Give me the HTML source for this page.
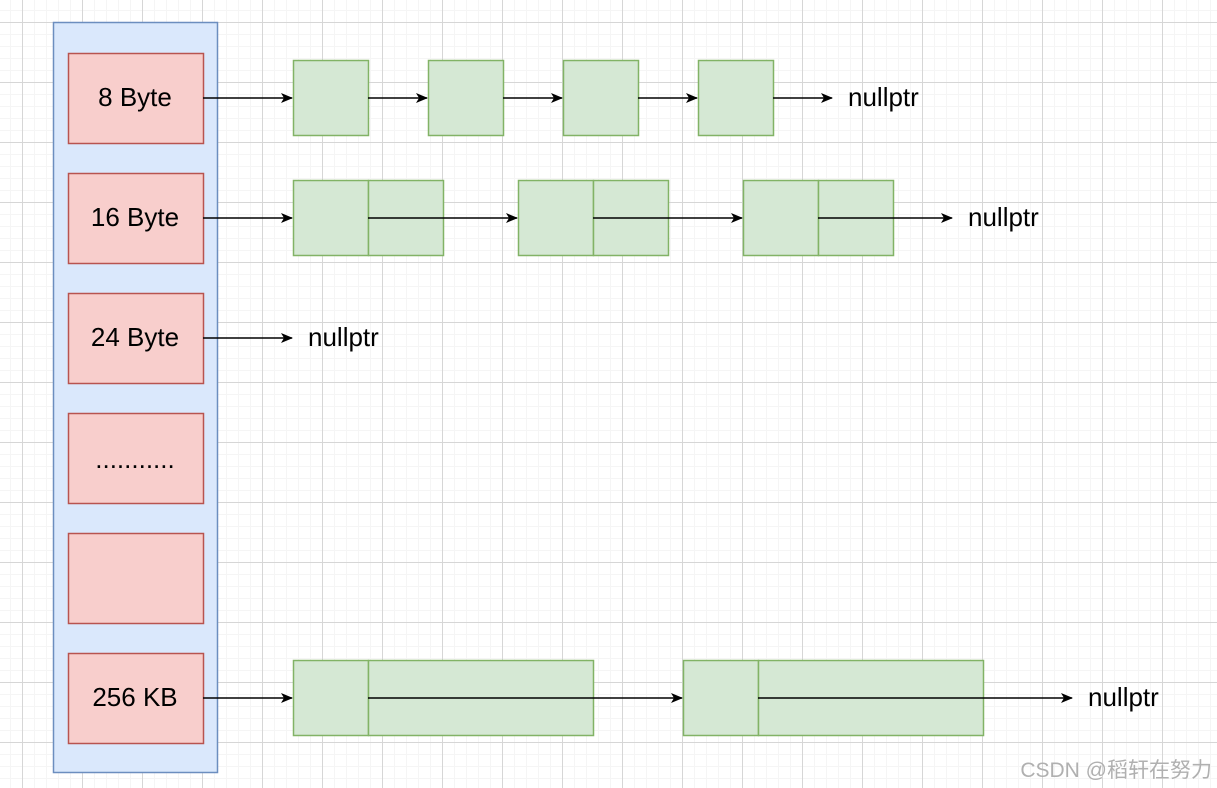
<!DOCTYPE html>
<html><head><meta charset="utf-8"><style>
body{margin:0;width:1217px;height:788px;overflow:hidden;background:#fff;
background-image:
linear-gradient(#d6d6d6 1px,transparent 1px),
linear-gradient(90deg,#d6d6d6 1px,transparent 1px),
linear-gradient(#f5f5f5 1px,transparent 1px),
linear-gradient(90deg,#f5f5f5 1px,transparent 1px);
background-size:60px 60px,60px 60px,12px 12px,12px 12px;
background-position:0 22px,22px 0,0 10px,10px 0;
font-family:"Liberation Sans",Arial,sans-serif;}
</style></head><body>
<svg width="1217" height="788" style="position:absolute;left:0;top:0">
<defs><marker id="a" markerWidth="12" markerHeight="12" refX="11" refY="6" orient="auto" markerUnits="userSpaceOnUse"><path d="M0,1 L12,6 L0,11 L3,6z" fill="#000"/></marker></defs>
<rect x="53.5" y="22.5" width="164" height="750" fill="#dae8fc" stroke="#6c8ebf" stroke-width="1.5"/>
<g fill="#f8cecc" stroke="#b85450" stroke-width="1.5">
<rect x="68.5" y="53.5" width="135" height="90"/>
<rect x="68.5" y="173.5" width="135" height="90"/>
<rect x="68.5" y="293.5" width="135" height="90"/>
<rect x="68.5" y="413.5" width="135" height="90"/>
<rect x="68.5" y="533.5" width="135" height="90"/>
<rect x="68.5" y="653.5" width="135" height="90"/>
</g>
<g font-size="26" text-anchor="middle" fill="#000">
<text x="135" y="106">8 Byte</text>
<text x="135" y="226">16 Byte</text>
<text x="135" y="346">24 Byte</text>
<text x="135" y="468">...........</text>
<text x="135" y="706">256 KB</text>
</g>
<g fill="#d5e8d4" stroke="#82b366" stroke-width="1.5">
<rect x="293.5" y="60.5" width="75" height="75"/>
<rect x="428.5" y="60.5" width="75" height="75"/>
<rect x="563.5" y="60.5" width="75" height="75"/>
<rect x="698.5" y="60.5" width="75" height="75"/>
<rect x="293.5" y="180.5" width="75" height="75"/><rect x="368.5" y="180.5" width="75" height="75"/>
<rect x="518.5" y="180.5" width="75" height="75"/><rect x="593.5" y="180.5" width="75" height="75"/>
<rect x="743.5" y="180.5" width="75" height="75"/><rect x="818.5" y="180.5" width="75" height="75"/>
<rect x="293.5" y="660.5" width="75" height="75"/><rect x="368.5" y="660.5" width="225" height="75"/>
<rect x="683.5" y="660.5" width="75" height="75"/><rect x="758.5" y="660.5" width="225" height="75"/>
</g>
<g stroke="#000" stroke-width="1.5" marker-end="url(#a)">
<line x1="203" y1="98" x2="292" y2="98"/>
<line x1="368" y1="98" x2="427" y2="98"/>
<line x1="503" y1="98" x2="562" y2="98"/>
<line x1="638" y1="98" x2="697" y2="98"/>
<line x1="773" y1="98" x2="832" y2="98"/>
<line x1="203" y1="218" x2="292" y2="218"/>
<line x1="368" y1="218" x2="517" y2="218"/>
<line x1="593" y1="218" x2="742" y2="218"/>
<line x1="818" y1="218" x2="952" y2="218"/>
<line x1="203" y1="338" x2="292" y2="338"/>
<line x1="203" y1="698" x2="292" y2="698"/>
<line x1="368" y1="698" x2="682" y2="698"/>
<line x1="758" y1="698" x2="1072" y2="698"/>
</g>
<g font-size="26" fill="#000">
<text x="848" y="106">nullptr</text>
<text x="968" y="226">nullptr</text>
<text x="308" y="346">nullptr</text>
<text x="1088" y="706">nullptr</text>
</g>
<text x="1212" y="777" text-anchor="end" font-size="21" fill="#b0b0b0" font-family="Liberation Sans,'Noto Sans CJK SC',sans-serif">CSDN @稻轩在努力</text>
</svg>
</body></html>
